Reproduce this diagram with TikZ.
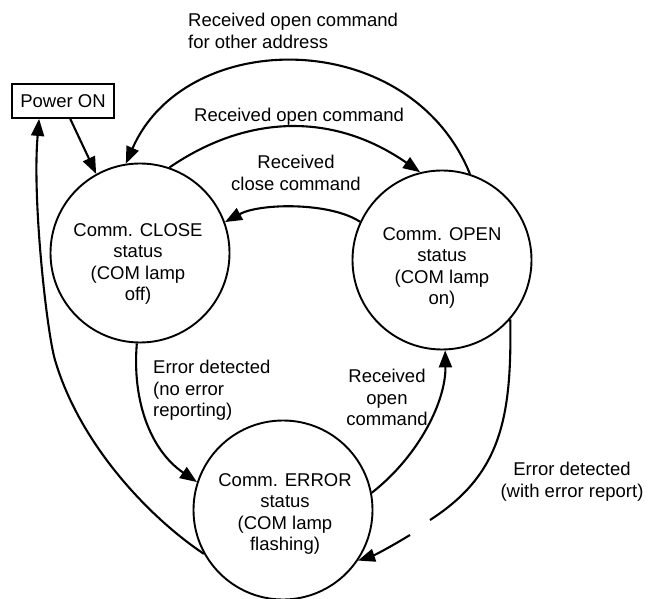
\documentclass[tikz,border=0pt]{standalone}
\usepackage{fontspec}
\setmainfont{Liberation Sans}
\usetikzlibrary{arrows.meta,calc}
\begin{document}
\begin{tikzpicture}[x=1pt,y=-1pt,
  state/.style={circle,draw,line width=1.9pt,minimum size=179pt,inner sep=0pt},
  txt/.style={font=\fontsize{18.5}{21.5}\selectfont,align=center,inner sep=0pt},
  box/.style={draw,line width=1.9pt,minimum width=102pt,minimum height=34pt,inner sep=0pt,
    font=\fontsize{18.5}{21.5}\selectfont},
  link/.style={line width=2.1pt},
  tr/.style={link,-{Triangle[length=17pt,width=13pt]}}]
\useasboundingbox (0,0) rectangle (649,599);

% states
\node[box] (pon) at (63,101) {Power ON};
\node[state] (close) at (140,253) {};
\node[state] (open) at (442,260) {};
\node[state] (err) at (283,510) {};

\node[txt,anchor=north] (closetxt) at (138,223) {Comm. CLOSE\\status\\(COM lamp\\off)};
\node[txt,anchor=north] (opentxt) at (442,227) {Comm. OPEN\\status\\(COM lamp\\on)};
\node[txt,anchor=north] (errtxt) at (285,473) {Comm. ERROR\\status\\(COM lamp\\flashing)};

% transition labels
\node[txt,anchor=north west,align=left] (lothers) at (188,13) {Received open command\\for other address};
\node[txt,anchor=north west] (lopen) at (194,108) {Received open command};
\node[txt,anchor=north] (lclose) at (296,155) {Received\\close command};
\node[txt,anchor=north west,align=left] (lerrA) at (153,360) {Error detected\\(no error\\reporting)};
\node[txt,anchor=north] (lopenB) at (387,369) {Received\\open\\command};
\node[txt,anchor=north] (lerrB) at (572,462) {Error detected\\(with error report)};

% transitions
\draw[tr] ($(pon.south west)!0.57!(pon.south east)$) -- (close.119);
\draw[tr] (err.209) .. controls (150,518) and (80,445) .. (55,360)
  .. controls (47,333) and (32,200) .. ($(pon.south west)!0.27!(pon.south east)$);
\draw[tr] (close.71) .. controls (249,113) and (335,113) .. (open.104);
\draw[tr] (open.155) .. controls (330,202) and (260,203) .. (close.20);
\draw[tr] (open.72) .. controls (410,26) and (186,26) .. (close.99);
\draw[tr] (close.268) .. controls (132,400) and (150,450) .. (err.162);
\draw[tr] (err.11) .. controls (420,455) and (446,400) .. (open.272);
\coordinate (gapA) at (430,520);
\coordinate (gapB) at (410,535);
\draw[link] (open.-41) .. controls (512,420) and (500,475) .. (gapA);
\draw[tr] (gapB) .. controls (392,546) and (375,555) .. (err.-34);
\end{tikzpicture}
\end{document}
